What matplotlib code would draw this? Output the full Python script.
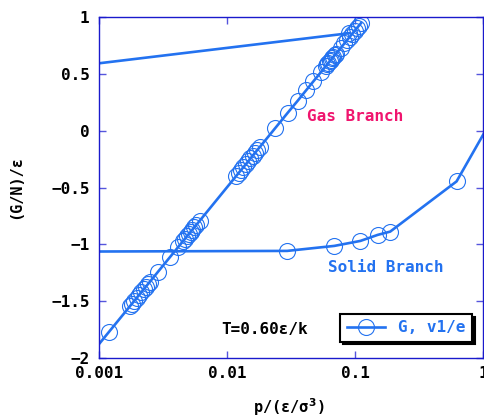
import matplotlib
matplotlib.use("Agg")
from matplotlib import pyplot as plt

# gas branch (p, G/N)
gas_p = [0.0008, 0.00119,
         0.00173, 0.00180, 0.00188, 0.00196, 0.00204, 0.00213, 0.00222, 0.00230, 0.00239, 0.00248,
         0.00288, 0.00356, 0.00413,
         0.00452, 0.00468, 0.00484, 0.00500, 0.00517, 0.00535, 0.00554, 0.00574, 0.0061,
         0.0118, 0.0123, 0.0128, 0.0134, 0.0140, 0.0146, 0.0152, 0.0158, 0.0165, 0.0172, 0.0179,
         0.0238, 0.0297, 0.0356, 0.0413, 0.0471, 0.0541,
         0.0592, 0.0605, 0.0619, 0.0633, 0.0647, 0.0662, 0.0677, 0.0692, 0.0708,
         0.0775, 0.0825, 0.0870, 0.0910, 0.0950, 0.0990, 0.1030, 0.1070, 0.1110]
gas_G = [-2.008, -1.770,
         -1.546, -1.522, -1.496, -1.471, -1.446, -1.421, -1.396, -1.374, -1.352, -1.330,
         -1.240, -1.113, -1.024,
         -0.970, -0.949, -0.929, -0.909, -0.890, -0.869, -0.847, -0.827, -0.791,
         -0.395, -0.370, -0.346, -0.319, -0.293, -0.268, -0.243, -0.219, -0.194, -0.168, -0.145,
         0.026, 0.159, 0.266, 0.356, 0.435, 0.518,
         0.571, 0.585, 0.599, 0.611, 0.625, 0.639, 0.653, 0.665, 0.679,
         0.733, 0.770, 0.803, 0.829, 0.856, 0.880, 0.904, 0.926, 0.948]

# solid branch
solid_p = [0.0001, 0.0294, 0.0687, 0.110, 0.150, 0.188, 0.621, 1.3]
solid_G = [-1.066, -1.057, -1.013, -0.969, -0.916, -0.887, -0.445, 0.19]

# upper connecting line
upper_p = [0.0001, 0.090]
upper_G = [0.46, 0.86]

blue = '#2372f0'
mono = 'DejaVu Sans Mono'
plt.rcParams['font.family'] = mono
plt.rcParams['font.weight'] = 'bold'

fig = plt.figure(figsize=(4.84, 4.17), dpi=100)
ax = fig.add_axes([0.2052, 0.1415, 0.7928, 0.817])

style = dict(color=blue, lw=1.9, marker='o', ms=11.5, mfc='none', mec=blue, mew=0.8)
ax.plot(gas_p, gas_G, label='G, v1/e', **style)
ax.plot(solid_p, solid_G, **style)
ax.plot(upper_p, upper_G, **style)

ax.set_xscale('log')
ax.set_xlim(0.001, 1)
ax.set_ylim(-2, 1)
ax.set_xticks([0.001, 0.01, 0.1, 1])
ax.set_xticklabels(['0.001', '0.01', '0.1', '1'])
ax.set_yticks([-2, -1.5, -1, -0.5, 0, 0.5, 1])
ax.set_yticklabels(['\u22122', '\u22121.5', '\u22121', '\u22120.5', '0', '0.5', '1'])
ax.minorticks_off()
ax.tick_params(axis='both', which='major', direction='in', length=5, width=1,
               color='#5555dd', labelsize=11.5, top=True, right=True)
ax.tick_params(axis='x', pad=6)
ax.tick_params(axis='y', pad=7)
for s in ax.spines.values():
    s.set_color('#1a1acc')
    s.set_linewidth(1)

ax.text(0.1, 0.125, 'Gas Branch', color='#f0146e', fontsize=11.5, ha='center', va='center')
ax.text(0.172, -1.204, 'Solid Branch', color=blue, fontsize=11.5, ha='center', va='center')
ax.text(0.0196, -1.753, 'T=0.60ε/k', color='black', fontsize=11.5, ha='center', va='center')

fig.text(16 / 484, 1 - 187 / 417, '(G/N)/ε', rotation=90, fontsize=11,
         ha='center', va='center')
fig.text(289 / 484, 1 - 407 / 417, 'p/(ε/σ$^3$)', fontsize=11, ha='center', va='center')

leg = ax.legend(loc='lower right', bbox_to_anchor=(0.9706, 0.048), borderaxespad=0,
                fancybox=False, edgecolor='black', framealpha=1, labelcolor='linecolor',
                shadow={'color': 'black', 'alpha': 1}, handlelength=2.4,
                prop={'size': 11.5, 'weight': 'bold', 'family': mono})
leg.get_frame().set_linewidth(1.5)

fig.savefig('out.png', dpi=100)
